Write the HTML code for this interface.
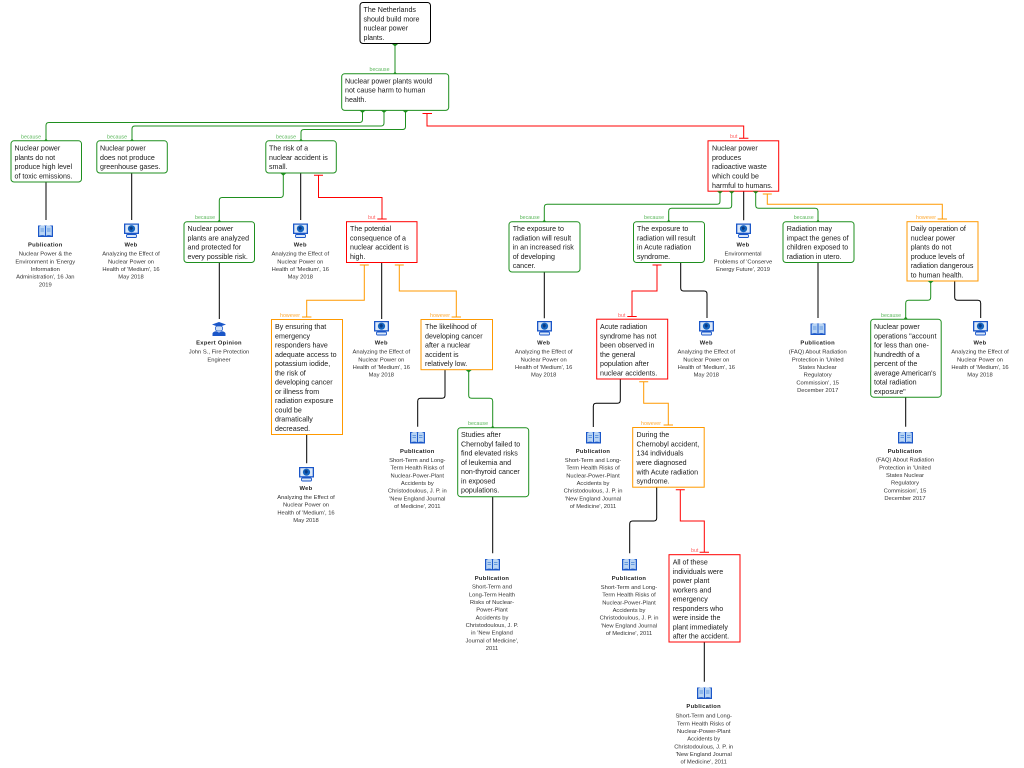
<!DOCTYPE html>
<html><head><meta charset="utf-8"><title>The Netherlands should build more nuclear power plants</title>
<style>
html,body{margin:0;padding:0;background:#fff;width:1024px;height:768px;overflow:hidden}
svg{display:block;font-family:"Liberation Sans",sans-serif}
.b{fill:#fff;stroke-width:1}
.g{stroke:#1f8f1f}.r{stroke:#f00}.o{stroke:#f90}.k{stroke:#000}
path,line{fill:none;stroke-width:1}
.t{font-size:7.1px;fill:#1a1a1a}
.h{font-size:5.8px;font-weight:bold;letter-spacing:.3px;fill:#222;text-anchor:middle}
.d{font-size:5.8px;fill:#333;text-anchor:middle}
.lg{font-size:5.3px;fill:#5cb85c}.lr{font-size:5.3px;fill:#f66}.lo{font-size:5.3px;fill:#fa3}
.tg{fill:#1f8f1f}
</style></head><body>
<svg width="1024" height="768" viewBox="0 0 1024 768" xmlns="http://www.w3.org/2000/svg">
<defs>
<symbol id="pub" viewBox="0 0 15 13" overflow="visible">
<path d="M0 1.5H15V13H0Z" style="fill:#1a56c8;stroke:none"/>
<path d="M1.2 2.5Q4.5 .5 7 2V11.8Q4.5 10.5 1.2 11.8Z M8 2Q10.5 .5 13.8 2.5V11.8Q10.5 10.5 8 11.8Z" style="fill:#b8d4f4;stroke:none"/>
<path d="M2.5 5H6M2.5 7H6M9 5H12.5M9 7H12.5" style="stroke:#4a86d8;stroke-width:.7"/>
</symbol>
<symbol id="web" viewBox="0 0 15 14" overflow="visible">
<rect x="0" y="0" width="15" height="10.5" style="fill:#1a56c8"/>
<rect x="1.3" y="1.2" width="12.4" height="8" style="fill:#dbe8f8"/>
<circle cx="7.5" cy="5.2" r="3.6" style="fill:#1565c0"/>
<path d="M5.5 3.5L8 3 9 5 7 7 6 5.5Z" style="fill:#0d3a80;stroke:none"/>
<rect x="2.5" y="11" width="10" height="3" rx="1" style="fill:#dbe8f8;stroke:#1a56c8;stroke-width:.9"/>
</symbol>
<symbol id="exp" viewBox="0 0 14 14" overflow="visible">
<path d="M7 0L14 2.5 7 5 0 2.5Z" style="fill:#1a56c8;stroke:none"/>
<rect x="3.5" y="4" width="7" height="5" rx="2" style="fill:#cfe0f6;stroke:#1a56c8;stroke-width:.8"/>
<path d="M.5 14V11.5Q1 9.5 4 9.2L7 10.5 10 9.2Q13 9.5 13.5 11.5V14Z" style="fill:#1a56c8;stroke:none"/>
</symbol>
</defs>

<!-- connectors -->
<g class="g" stroke="#1f8f1f">
<path class="g" d="M395 44V74"/>
<path class="g" d="M362.5 110V119.5Q362.5 122.5 359.5 122.5H49Q46 122.5 46 125.5V141"/>
<path class="g" d="M384 110V123Q384 126 381 126H135Q132 126 132 129V141"/>
<path class="g" d="M405.5 110V126.5Q405.5 129.5 402.5 129.5H304Q301 129.5 301 132.5V141"/>
<path class="g" d="M283.3 173V194.5Q283.3 197.5 280.3 197.5H222.3Q219.3 197.5 219.3 200.5V222"/>
<path class="g" d="M468.7 370V395.3Q468.7 398.3 471.7 398.3H489.7Q492.7 398.3 492.7 401.3V428"/>
<path class="g" d="M720 191V201.3Q720 204.3 717 204.3H547.3Q544.3 204.3 544.3 207.3V222"/>
<path class="g" d="M731.7 191V205.3Q731.7 208.3 728.7 208.3H671.7Q668.7 208.3 668.7 211.3V222"/>
<path class="g" d="M755.7 191V205.3Q755.7 208.3 758.7 208.3H815Q818 208.3 818 211.3V222"/>
<path class="g" d="M930.7 281V297.3Q930.7 300.3 927.7 300.3H908.7Q905.7 300.3 905.7 303.3V319"/>
</g>
<g>
<path class="k" d="M46 182V220M131.7 173V220M300.7 173V220M219.3 262V319M381.7 262V319M306.7 435V463.3M492.7 497V553.3M544.3 272V318.3M743.7 191V220.3M818 262V318M905.7 397V426.7M704.3 642V681.7"/>
<path class="k" d="M445 370V395.3Q445 398.3 442 398.3H420.7Q417.7 398.3 417.7 401.3V426.7"/>
<path class="k" d="M680.7 262.5V288Q680.7 291 683.7 291H704Q707 291 707 294V318"/>
<path class="k" d="M954.7 281V297.3Q954.7 300.3 957.7 300.3H977.7Q980.7 300.3 980.7 303.3V318"/>
<path class="k" d="M620.3 379V400.3Q620.3 403.3 617.3 403.3H596.3Q593.3 403.3 593.3 406.3V427"/>
<path class="k" d="M656.7 487V518Q656.7 521 653.7 521H632.7Q629.7 521 629.7 524V553.3"/>
</g>
<g>
<path class="r" d="M427 113.5V126H743.7V138.3M422.5 113.5H432M739 138.3H748.4"/>
<path class="r" d="M318.5 175.3V197.5H382V219M314 175.3H323M377.3 219H386.7"/>
<path class="r" d="M657 165"/>
<path class="r" d="M657 265V291H632V316.5M652.5 265H661.5M627.3 316.5H636.7"/>
<path class="r" d="M680.3 489.7V521H704.3V552.3M675.8 489.7H684.8M699.6 552.3H709"/>
<path class="o" d="M364.3 265V300.3H306.7V317M359.8 265H368.8M302 317H311.4"/>
<path class="o" d="M399.3 265V291H456.3V317M394.8 265H403.8M451.6 317H461"/>
<path class="o" d="M767.3 194V204.3H942.3V219M762.8 194H771.8M937.6 219H947"/>
<path class="o" d="M643.7 381.7V403.3H668.3V425M639.2 381.7H648.2M663.6 425H673"/>
</g>

<!-- boxes -->
<rect class="b k" x="360" y="2.5" width="70.5" height="41" rx="3"/>
<rect class="b g" x="341.7" y="73.7" width="107" height="36.7" rx="3"/>
<rect class="b g" x="11" y="140.8" width="70.5" height="41.2" rx="3"/>
<rect class="b g" x="96.8" y="140.8" width="70.5" height="32.2" rx="3"/>
<rect class="b g" x="265.8" y="140.8" width="70.5" height="32.2" rx="3"/>
<rect class="b g" x="184" y="221.7" width="70.5" height="40.8" rx="3"/>
<rect class="b r" x="346.5" y="221.7" width="70.5" height="40.8"/>
<rect class="b r" x="708" y="140.8" width="70.7" height="50.4"/>
<rect class="b g" x="509" y="221.7" width="71" height="50.3" rx="3"/>
<rect class="b g" x="633.5" y="221.7" width="71" height="40.8" rx="3"/>
<rect class="b g" x="783" y="221.7" width="71" height="40.8" rx="3"/>
<rect class="b o" x="907" y="221.7" width="71" height="59.3"/>
<rect class="b r" x="596.7" y="319.2" width="71" height="59.8"/>
<rect class="b g" x="870.7" y="319.2" width="70.5" height="78" rx="3"/>
<rect class="b o" x="271.5" y="319.5" width="71" height="115"/>
<rect class="b o" x="421" y="319.5" width="71.5" height="50.2"/>
<rect class="b g" x="457.7" y="427.7" width="71" height="69" rx="3"/>
<rect class="b o" x="632.7" y="427.5" width="71.5" height="59.7"/>
<rect class="b r" x="669" y="554.7" width="71" height="87.3"/>

<!-- arrowheads -->
<g class="tg">
<path style="stroke:none;fill:#1f8f1f" d="M392 44H398L395 46.5ZM393 74H397L395 71.5ZM359.5 110.5H365.5L362.5 113ZM381 110.5H387L384 113ZM402.5 110.5H408.5L405.5 113ZM44 141H48L46 138.5ZM130 141H134L132 138.5ZM299 141H303L301 138.5ZM280.3 173.3H286.3L283.3 175.8ZM217.3 222H221.3L219.3 219.5ZM465.7 370H471.7L468.7 372.5ZM490.7 428H494.7L492.7 425.5ZM717 191.2H723L720 193.7ZM728.7 191.2H734.7L731.7 193.7ZM752.7 191.2H758.7L755.7 193.7ZM542.3 222H546.3L544.3 219.5ZM666.7 222H670.7L668.7 219.5ZM816 222H820L818 219.5ZM927.7 281H933.7L930.7 283.5ZM903.7 319H907.7L905.7 316.5Z"/>
</g>

<!-- relation labels -->
<text class="lg" x="369.5" y="71">because</text>
<text class="lg" x="21" y="138.3">because</text>
<text class="lg" x="107" y="138.3">because</text>
<text class="lg" x="276" y="138.3">because</text>
<text class="lg" x="195" y="218.8">because</text>
<text class="lg" x="519.7" y="218.8">because</text>
<text class="lg" x="644" y="218.8">because</text>
<text class="lg" x="793.7" y="218.8">because</text>
<text class="lg" x="881" y="316.8">because</text>
<text class="lg" x="468" y="425">because</text>
<text class="lr" x="368" y="218.8">but</text>
<text class="lr" x="730" y="138">but</text>
<text class="lr" x="618" y="316.8">but</text>
<text class="lr" x="691" y="552">but</text>
<text class="lo" x="280" y="316.8">however</text>
<text class="lo" x="430" y="316.8">however</text>
<text class="lo" x="916" y="218.8">however</text>
<text class="lo" x="641" y="425">however</text>

<!-- box text -->
<text class="t" y="12"><tspan x="363.5">The Netherlands</tspan><tspan x="363.5" dy="9.27">should build more</tspan><tspan x="363.5" dy="9.27">nuclear power</tspan><tspan x="363.5" dy="9.27">plants.</tspan></text>
<text class="t" y="83.3"><tspan x="345">Nuclear power plants would</tspan><tspan x="345" dy="9.27">not cause harm to human</tspan><tspan x="345" dy="9.27">health.</tspan></text>
<text class="t" y="150.7"><tspan x="14.5">Nuclear power</tspan><tspan x="14.5" dy="9.27">plants do not</tspan><tspan x="14.5" dy="9.27">produce high level</tspan><tspan x="14.5" dy="9.27">of toxic emissions.</tspan></text>
<text class="t" y="150.7"><tspan x="100">Nuclear power</tspan><tspan x="100" dy="9.27">does not produce</tspan><tspan x="100" dy="9.27">greenhouse gases.</tspan></text>
<text class="t" y="150.7"><tspan x="269">The risk of a</tspan><tspan x="269" dy="9.27">nuclear accident is</tspan><tspan x="269" dy="9.27">small.</tspan></text>
<text class="t" y="231"><tspan x="187.5">Nuclear power</tspan><tspan x="187.5" dy="9.27">plants are analyzed</tspan><tspan x="187.5" dy="9.27">and protected for</tspan><tspan x="187.5" dy="9.27">every possible risk.</tspan></text>
<text class="t" y="231"><tspan x="350">The potential</tspan><tspan x="350" dy="9.27">consequence of a</tspan><tspan x="350" dy="9.27">nuclear accident is</tspan><tspan x="350" dy="9.27">high.</tspan></text>
<text class="t" y="150.7"><tspan x="712">Nuclear power</tspan><tspan x="712" dy="9.27">produces</tspan><tspan x="712" dy="9.27">radioactive waste</tspan><tspan x="712" dy="9.27">which could be</tspan><tspan x="712" dy="9.27">harmful to humans.</tspan></text>
<text class="t" y="231"><tspan x="512.7">The exposure to</tspan><tspan x="512.7" dy="9.27">radiation will result</tspan><tspan x="512.7" dy="9.27">in an increased risk</tspan><tspan x="512.7" dy="9.27">of developing</tspan><tspan x="512.7" dy="9.27">cancer.</tspan></text>
<text class="t" y="231"><tspan x="637">The exposure to</tspan><tspan x="637" dy="9.27">radiation will result</tspan><tspan x="637" dy="9.27">in Acute radiation</tspan><tspan x="637" dy="9.27">syndrome.</tspan></text>
<text class="t" y="231"><tspan x="786.7">Radiation may</tspan><tspan x="786.7" dy="9.27">impact the genes of</tspan><tspan x="786.7" dy="9.27">children exposed to</tspan><tspan x="786.7" dy="9.27">radiation in utero.</tspan></text>
<text class="t" y="231"><tspan x="910.7">Daily operation of</tspan><tspan x="910.7" dy="9.27">nuclear power</tspan><tspan x="910.7" dy="9.27">plants do not</tspan><tspan x="910.7" dy="9.27">produce levels of</tspan><tspan x="910.7" dy="9.27">radiation dangerous</tspan><tspan x="910.7" dy="9.27">to human health.</tspan></text>
<text class="t" y="329"><tspan x="600">Acute radiation</tspan><tspan x="600" dy="9.27">syndrome has not</tspan><tspan x="600" dy="9.27">been observed in</tspan><tspan x="600" dy="9.27">the general</tspan><tspan x="600" dy="9.27">population after</tspan><tspan x="600" dy="9.27">nuclear accidents.</tspan></text>
<text class="t" y="329"><tspan x="874">Nuclear power</tspan><tspan x="874" dy="9.27">operations "account</tspan><tspan x="874" dy="9.27">for less than one-</tspan><tspan x="874" dy="9.27">hundredth of a</tspan><tspan x="874" dy="9.27">percent of the</tspan><tspan x="874" dy="9.27">average American's</tspan><tspan x="874" dy="9.27">total radiation</tspan><tspan x="874" dy="9.27">exposure"</tspan></text>
<text class="t" y="329"><tspan x="275">By ensuring that</tspan><tspan x="275" dy="9.27">emergency</tspan><tspan x="275" dy="9.27">responders have</tspan><tspan x="275" dy="9.27">adequate access to</tspan><tspan x="275" dy="9.27">potassium iodide,</tspan><tspan x="275" dy="9.27">the risk of</tspan><tspan x="275" dy="9.27">developing cancer</tspan><tspan x="275" dy="9.27">or illness from</tspan><tspan x="275" dy="9.27">radiation exposure</tspan><tspan x="275" dy="9.27">could be</tspan><tspan x="275" dy="9.27">dramatically</tspan><tspan x="275" dy="9.27">decreased.</tspan></text>
<text class="t" y="329"><tspan x="425">The likelihood of</tspan><tspan x="425" dy="9.27">developing cancer</tspan><tspan x="425" dy="9.27">after a nuclear</tspan><tspan x="425" dy="9.27">accident is</tspan><tspan x="425" dy="9.27">relatively low.</tspan></text>
<text class="t" y="437"><tspan x="461">Studies after</tspan><tspan x="461" dy="9.27">Chernobyl failed to</tspan><tspan x="461" dy="9.27">find elevated risks</tspan><tspan x="461" dy="9.27">of leukemia and</tspan><tspan x="461" dy="9.27">non-thyroid cancer</tspan><tspan x="461" dy="9.27">in exposed</tspan><tspan x="461" dy="9.27">populations.</tspan></text>
<text class="t" y="437.2"><tspan x="636.5">During the</tspan><tspan x="636.5" dy="9.27">Chernobyl accident,</tspan><tspan x="636.5" dy="9.27">134 individuals</tspan><tspan x="636.5" dy="9.27">were diagnosed</tspan><tspan x="636.5" dy="9.27">with Acute radiation</tspan><tspan x="636.5" dy="9.27">syndrome.</tspan></text>
<text class="t" y="564.5"><tspan x="672.7">All of these</tspan><tspan x="672.7" dy="9.27">individuals were</tspan><tspan x="672.7" dy="9.27">power plant</tspan><tspan x="672.7" dy="9.27">workers and</tspan><tspan x="672.7" dy="9.27">emergency</tspan><tspan x="672.7" dy="9.27">responders who</tspan><tspan x="672.7" dy="9.27">were inside the</tspan><tspan x="672.7" dy="9.27">plant immediately</tspan><tspan x="672.7" dy="9.27">after the accident.</tspan></text>

<!-- icons -->
<use href="#pub" x="38" y="224" width="15" height="13"/>
<use href="#web" x="124" y="223.5" width="15" height="14"/>
<use href="#web" x="293" y="223.5" width="15" height="14"/>
<use href="#exp" x="212" y="322" width="14" height="14"/>
<use href="#web" x="374" y="321" width="15" height="14"/>
<use href="#web" x="299" y="467" width="15" height="14"/>
<use href="#pub" x="410" y="430.5" width="15" height="13"/>
<use href="#pub" x="485" y="557.5" width="15" height="13"/>
<use href="#web" x="537" y="321" width="15" height="14"/>
<use href="#web" x="736" y="223.5" width="15" height="14"/>
<use href="#web" x="699" y="321" width="15" height="14"/>
<use href="#pub" x="810.5" y="322" width="15" height="13"/>
<use href="#web" x="973" y="321" width="15" height="14"/>
<use href="#pub" x="898" y="430.5" width="15" height="13"/>
<use href="#pub" x="586" y="430.5" width="15" height="13"/>
<use href="#pub" x="622" y="557.5" width="15" height="13"/>
<use href="#pub" x="697" y="686" width="15" height="13"/>

<!-- source titles -->
<text class="h" x="45.3" y="246.5">Publication</text>
<text class="h" x="131" y="246.5">Web</text>
<text class="h" x="300.3" y="246.5">Web</text>
<text class="h" x="219" y="344.5">Expert Opinion</text>
<text class="h" x="381.3" y="344.5">Web</text>
<text class="h" x="306" y="490">Web</text>
<text class="h" x="417.3" y="453">Publication</text>
<text class="h" x="492" y="580">Publication</text>
<text class="h" x="543.7" y="344.5">Web</text>
<text class="h" x="743" y="246.5">Web</text>
<text class="h" x="706.3" y="344.5">Web</text>
<text class="h" x="817.7" y="344.5">Publication</text>
<text class="h" x="980" y="344.5">Web</text>
<text class="h" x="905" y="453">Publication</text>
<text class="h" x="593" y="453">Publication</text>
<text class="h" x="629" y="580">Publication</text>
<text class="h" x="703.7" y="708.2">Publication</text>

<!-- source descriptions -->
<text class="d" y="255.7"><tspan x="45.3">Nuclear Power &amp; the</tspan><tspan x="45.3" dy="7.67">Environment in 'Energy</tspan><tspan x="45.3" dy="7.67">Information</tspan><tspan x="45.3" dy="7.67">Administration', 16 Jan</tspan><tspan x="45.3" dy="7.67">2019</tspan></text>
<text class="d" y="255.7"><tspan x="131">Analyzing the Effect of</tspan><tspan x="131" dy="7.67">Nuclear Power on</tspan><tspan x="131" dy="7.67">Health of 'Medium', 16</tspan><tspan x="131" dy="7.67">May 2018</tspan></text>
<text class="d" y="255.7"><tspan x="300.3">Analyzing the Effect of</tspan><tspan x="300.3" dy="7.67">Nuclear Power on</tspan><tspan x="300.3" dy="7.67">Health of 'Medium', 16</tspan><tspan x="300.3" dy="7.67">May 2018</tspan></text>
<text class="d" y="353.7"><tspan x="219">John S., Fire Protection</tspan><tspan x="219" dy="7.67">Engineer</tspan></text>
<text class="d" y="353.7"><tspan x="381.3">Analyzing the Effect of</tspan><tspan x="381.3" dy="7.67">Nuclear Power on</tspan><tspan x="381.3" dy="7.67">Health of 'Medium', 16</tspan><tspan x="381.3" dy="7.67">May 2018</tspan></text>
<text class="d" y="499"><tspan x="306">Analyzing the Effect of</tspan><tspan x="306" dy="7.67">Nuclear Power on</tspan><tspan x="306" dy="7.67">Health of 'Medium', 16</tspan><tspan x="306" dy="7.67">May 2018</tspan></text>
<text class="d" y="462"><tspan x="417.3">Short-Term and Long-</tspan><tspan x="417.3" dy="7.67">Term Health Risks of</tspan><tspan x="417.3" dy="7.67">Nuclear-Power-Plant</tspan><tspan x="417.3" dy="7.67">Accidents by</tspan><tspan x="417.3" dy="7.67">Christodoulous, J. P. in</tspan><tspan x="417.3" dy="7.67">'New England Journal</tspan><tspan x="417.3" dy="7.67">of Medicine', 2011</tspan></text>
<text class="d" y="588.7"><tspan x="492">Short-Term and</tspan><tspan x="492" dy="7.67">Long-Term Health</tspan><tspan x="492" dy="7.67">Risks of Nuclear-</tspan><tspan x="492" dy="7.67">Power-Plant</tspan><tspan x="492" dy="7.67">Accidents by</tspan><tspan x="492" dy="7.67">Christodoulous, J. P.</tspan><tspan x="492" dy="7.67">in 'New England</tspan><tspan x="492" dy="7.67">Journal of Medicine',</tspan><tspan x="492" dy="7.67">2011</tspan></text>
<text class="d" y="353.7"><tspan x="543.7">Analyzing the Effect of</tspan><tspan x="543.7" dy="7.67">Nuclear Power on</tspan><tspan x="543.7" dy="7.67">Health of 'Medium', 16</tspan><tspan x="543.7" dy="7.67">May 2018</tspan></text>
<text class="d" y="255.7"><tspan x="743">Environmental</tspan><tspan x="743" dy="7.67">Problems of 'Conserve</tspan><tspan x="743" dy="7.67">Energy Future', 2019</tspan></text>
<text class="d" y="353.7"><tspan x="706.3">Analyzing the Effect of</tspan><tspan x="706.3" dy="7.67">Nuclear Power on</tspan><tspan x="706.3" dy="7.67">Health of 'Medium', 16</tspan><tspan x="706.3" dy="7.67">May 2018</tspan></text>
<text class="d" y="353.7"><tspan x="817.7">(FAQ) About Radiation</tspan><tspan x="817.7" dy="7.67">Protection in 'United</tspan><tspan x="817.7" dy="7.67">States Nuclear</tspan><tspan x="817.7" dy="7.67">Regulatory</tspan><tspan x="817.7" dy="7.67">Commission', 15</tspan><tspan x="817.7" dy="7.67">December 2017</tspan></text>
<text class="d" y="353.7"><tspan x="980">Analyzing the Effect of</tspan><tspan x="980" dy="7.67">Nuclear Power on</tspan><tspan x="980" dy="7.67">Health of 'Medium', 16</tspan><tspan x="980" dy="7.67">May 2018</tspan></text>
<text class="d" y="461.7"><tspan x="905">(FAQ) About Radiation</tspan><tspan x="905" dy="7.67">Protection in 'United</tspan><tspan x="905" dy="7.67">States Nuclear</tspan><tspan x="905" dy="7.67">Regulatory</tspan><tspan x="905" dy="7.67">Commission', 15</tspan><tspan x="905" dy="7.67">December 2017</tspan></text>
<text class="d" y="462"><tspan x="593">Short-Term and Long-</tspan><tspan x="593" dy="7.67">Term Health Risks of</tspan><tspan x="593" dy="7.67">Nuclear-Power-Plant</tspan><tspan x="593" dy="7.67">Accidents by</tspan><tspan x="593" dy="7.67">Christodoulous, J. P. in</tspan><tspan x="593" dy="7.67">'New England Journal</tspan><tspan x="593" dy="7.67">of Medicine', 2011</tspan></text>
<text class="d" y="589"><tspan x="629">Short-Term and Long-</tspan><tspan x="629" dy="7.67">Term Health Risks of</tspan><tspan x="629" dy="7.67">Nuclear-Power-Plant</tspan><tspan x="629" dy="7.67">Accidents by</tspan><tspan x="629" dy="7.67">Christodoulous, J. P. in</tspan><tspan x="629" dy="7.67">'New England Journal</tspan><tspan x="629" dy="7.67">of Medicine', 2011</tspan></text>
<text class="d" y="717.7"><tspan x="703.7">Short-Term and Long-</tspan><tspan x="703.7" dy="7.67">Term Health Risks of</tspan><tspan x="703.7" dy="7.67">Nuclear-Power-Plant</tspan><tspan x="703.7" dy="7.67">Accidents by</tspan><tspan x="703.7" dy="7.67">Christodoulous, J. P. in</tspan><tspan x="703.7" dy="7.67">'New England Journal</tspan><tspan x="703.7" dy="7.67">of Medicine', 2011</tspan></text>
</svg>
</body></html>
